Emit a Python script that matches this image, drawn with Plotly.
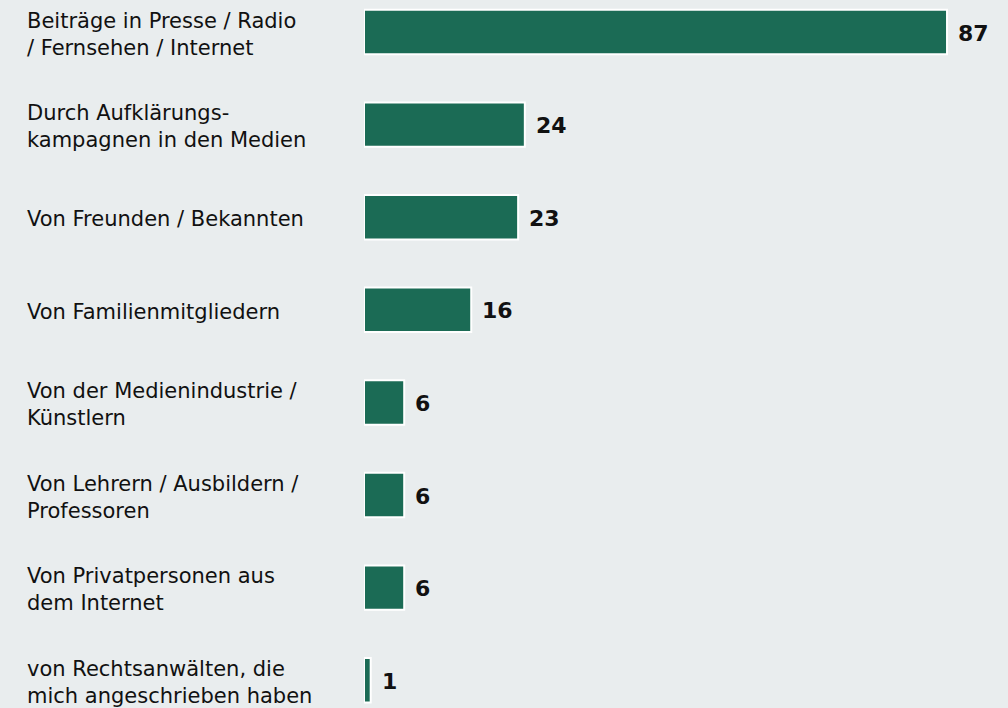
import plotly.graph_objects as go

labels = [
    "Beiträge in Presse / Radio<br>/ Fernsehen / Internet",
    "Durch Aufklärungs-<br>kampagnen in den Medien",
    "Von Freunden / Bekannten",
    "Von Familienmitgliedern",
    "Von der Medienindustrie /<br>Künstlern",
    "Von Lehrern / Ausbildern /<br>Professoren",
    "Von Privatpersonen aus<br>dem Internet",
    "von Rechtsanwälten, die<br>mich angeschrieben haben",
]
values = [87, 24, 23, 16, 6, 6, 6, 1]

bg = "#e9edee"
bar_color = "#1b6b55"
font_name = "DejaVu Sans"

fig = go.Figure(go.Bar(
    x=values,
    y=list(range(len(values))),
    orientation="h",
    width=0.48,
    marker=dict(color=bar_color, line=dict(color="white", width=2)),
    hoverinfo="x",
))

# category labels, left aligned in the left margin
for i, lab in enumerate(labels):
    fig.add_annotation(
        x=-0.5264, xref="paper", xanchor="left",
        y=i, yref="y", yanchor="middle", yshift=-2,
        text=lab, showarrow=False, align="left",
        font=dict(family=font_name, size=21, color="#111111"),
    )

# value labels right of the bars
for i, v in enumerate(values):
    fig.add_annotation(
        x=v, y=i, xanchor="left", yanchor="middle", xshift=9, yshift=-1,
        text="<b>%d</b>" % v, showarrow=False,
        font=dict(family=font_name, size=22, color="#111111"),
    )

fig.update_layout(
    width=1008, height=708,
    margin=dict(l=364, r=0, t=0, b=0),
    paper_bgcolor=bg, plot_bgcolor=bg,
    showlegend=False,
    xaxis=dict(range=[0, 96.1], visible=False),
    yaxis=dict(range=[7.300, -0.3456], visible=False),
)

fig.write_html("out.html", config={"displayModeBar": False},
               post_script="document.body.style.margin='0';")
